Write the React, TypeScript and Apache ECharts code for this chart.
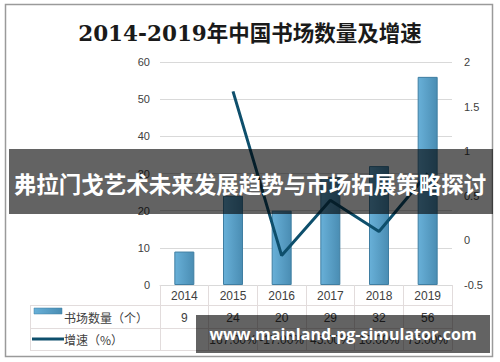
import React, { useEffect, useRef } from "react";
import * as echarts from "echarts";

const years = ["2014", "2015", "2016", "2017", "2018", "2019"];
const counts = [9, 24, 20, 29, 32, 56];
const growth: (number | null)[] = [null, 1.67, -0.17, 0.45, 0.1, 0.75];
const leftTicks = { min: 0, max: 60, interval: 10 };
const rightTicks = { min: -0.5, max: 2, interval: 0.5 };
const titleText = "2014-2019年中国书场数量及增速";
const bannerText = "弗拉门戈艺术未来发展趋势与市场拓展策略探讨";
const watermarkText = "www.mainland-pg-simulator.com";
const countName = "书场数量（个）";
const growthName = "增速（%）";

const W = 500;
const H = 362;
const GL = 160;
const GR = 48;
const GT = 62;
const GB = 77;

export default function App() {
  const ref = useRef<HTMLDivElement>(null);
  useEffect(() => {
    if (!ref.current) return;
    const chart = echarts.init(ref.current, null, { renderer: "svg", width: W, height: H });
    const gridColor = "#e2dcdc";
    const labelColor = "#404040";
    const barGrad = new echarts.graphic.LinearGradient(0, 0, 1, 0, [
      { offset: 0, color: "#68b0d8" },
      { offset: 1, color: "#4a8db3" },
    ]);
    const legendGrad = new echarts.graphic.LinearGradient(0, 0, 1, 0, [
      { offset: 0, color: "#68b0d8" },
      { offset: 1, color: "#4a8db3" },
    ]);
    const tableLeft = 30;
    const tableRight = W - GR;
    const axisY = H - GB;
    chart.setOption({
      animation: false,
      backgroundColor: "#ffffff",
      grid: { left: GL, right: GR, top: GT, bottom: GB, containLabel: false },
      xAxis: [
        {
          type: "category",
          data: years,
          position: "bottom",
          axisLine: { show: true, lineStyle: { color: "#d9d9d9", width: 1 } },
          axisTick: { show: true, interval: 0, length: 65, lineStyle: { color: gridColor } },
          axisLabel: { color: labelColor, fontSize: 12, margin: 5, fontFamily: "Liberation Sans, Noto Sans CJK SC", interval: 0 },
          splitLine: { show: false },
        },
        {
          type: "category",
          data: counts.map((c) => String(c)),
          position: "bottom",
          offset: 23,
          axisLine: { show: false },
          axisTick: { show: false },
          axisLabel: { color: labelColor, fontSize: 12, margin: 4, fontFamily: "Liberation Sans, Noto Sans CJK SC", interval: 0 },
          splitLine: { show: false },
        },
        {
          type: "category",
          data: growth.map((g) => (g === null ? "" : (g * 100).toFixed(2) + "%")),
          position: "bottom",
          offset: 45,
          axisLine: { show: false },
          axisTick: { show: false },
          axisLabel: { color: labelColor, fontSize: 12, margin: 4, fontFamily: "Liberation Sans, Noto Sans CJK SC", interval: 0 },
          splitLine: { show: false },
        },
      ],
      yAxis: [
        {
          type: "value",
          min: leftTicks.min,
          max: leftTicks.max,
          interval: leftTicks.interval,
          axisLine: { show: false },
          axisTick: { show: false },
          axisLabel: { color: labelColor, fontSize: 11, margin: 10, fontFamily: "Liberation Sans, Noto Sans" },
          splitLine: { show: true, lineStyle: { color: "#d9d9d9", width: 1 } },
        },
        {
          type: "value",
          min: rightTicks.min,
          max: rightTicks.max,
          interval: rightTicks.interval,
          position: "right",
          axisLine: { show: false },
          axisTick: { show: false },
          axisLabel: { color: labelColor, fontSize: 11, margin: 12, fontFamily: "Liberation Sans, Noto Sans" },
          splitLine: { show: false },
        },
      ],
      series: [
        {
          name: countName,
          type: "bar",
          xAxisIndex: 0,
          yAxisIndex: 0,
          data: counts,
          barWidth: 20,
          itemStyle: { color: barGrad, borderColor: "#3f7ea2", borderWidth: 1 },
        },
        {
          name: growthName,
          type: "line",
          xAxisIndex: 0,
          yAxisIndex: 1,
          data: growth,
          showSymbol: false,
          symbol: "none",
          connectNulls: false,
          lineStyle: { color: "#0e4f6c", width: 3 },
          z: 5,
        },
      ],
      graphic: [
        {
          type: "rect",
          shape: { x: 5.5, y: 4.5, width: 487, height: 352 },
          style: { fill: "none", stroke: "#9a9a9a", lineWidth: 1.5 },
          z: 1,
        },
        {
          type: "text",
          x: 250,
          y: 33,
          style: {
            text: titleText,
            fill: "#1a1a1a",
            font: "bold 21.5px 'DejaVu Serif', 'Noto Sans CJK SC', serif",
            textAlign: "center",
            textVerticalAlign: "middle",
          },
          z: 10,
        },
        {
          type: "line",
          shape: { x1: tableLeft, y1: axisY + 20.5, x2: tableRight, y2: axisY + 20.5 },
          style: { stroke: gridColor, lineWidth: 1 },
        },
        {
          type: "line",
          shape: { x1: tableLeft, y1: axisY + 43.5, x2: tableRight, y2: axisY + 43.5 },
          style: { stroke: gridColor, lineWidth: 1 },
        },
        {
          type: "line",
          shape: { x1: tableLeft, y1: axisY + 65.5, x2: tableRight, y2: axisY + 65.5 },
          style: { stroke: gridColor, lineWidth: 1 },
        },
        {
          type: "line",
          shape: { x1: tableLeft + 0.5, y1: axisY + 20, x2: tableLeft + 0.5, y2: axisY + 65 },
          style: { stroke: gridColor, lineWidth: 1 },
        },
        {
          type: "rect",
          shape: { x: 34, y: axisY + 23, width: 28, height: 6 },
          style: { fill: legendGrad, stroke: "#3f7ea2", lineWidth: 0.5 },
        },
        {
          type: "text",
          x: 64,
          y: axisY + 32,
          style: {
            text: countName,
            fill: labelColor,
            font: "12px 'Noto Sans CJK SC', sans-serif",
            textVerticalAlign: "middle",
          },
        },
        {
          type: "line",
          shape: { x1: 32, y1: axisY + 54, x2: 64, y2: axisY + 54 },
          style: { stroke: "#0e4f6c", lineWidth: 3 },
        },
        {
          type: "text",
          x: 64,
          y: axisY + 54,
          style: {
            text: growthName,
            fill: labelColor,
            font: "12px 'Noto Sans CJK SC', sans-serif",
            textVerticalAlign: "middle",
          },
        },
        {
          type: "rect",
          shape: { x: 9, y: 149, width: 484, height: 65 },
          style: { fill: "rgba(0,0,0,0.61)" },
          z: 100,
        },
        {
          type: "text",
          x: 250,
          y: 183,
          style: {
            text: bannerText,
            fill: "#ffffff",
            font: "bold 22.5px 'Noto Sans CJK SC', sans-serif",
            textAlign: "center",
            textVerticalAlign: "middle",
          },
          z: 101,
        },
        {
          type: "rect",
          shape: { x: 196, y: 315, width: 294, height: 38 },
          style: { fill: "rgba(0,0,0,0.61)" },
          z: 100,
        },
        {
          type: "text",
          x: 343,
          y: 334,
          style: {
            text: watermarkText,
            fill: "#ffffff",
            font: "bold 16px 'Open Sans', 'Noto Sans', sans-serif",
            textAlign: "center",
            textVerticalAlign: "middle",
          },
          z: 101,
        },
      ],
    });
    return () => chart.dispose();
  }, []);
  return (
    <div
      ref={ref}
      style={{ position: "fixed", left: 0, top: 0, width: W, height: H, background: "#fff" }}
    />
  );
}
